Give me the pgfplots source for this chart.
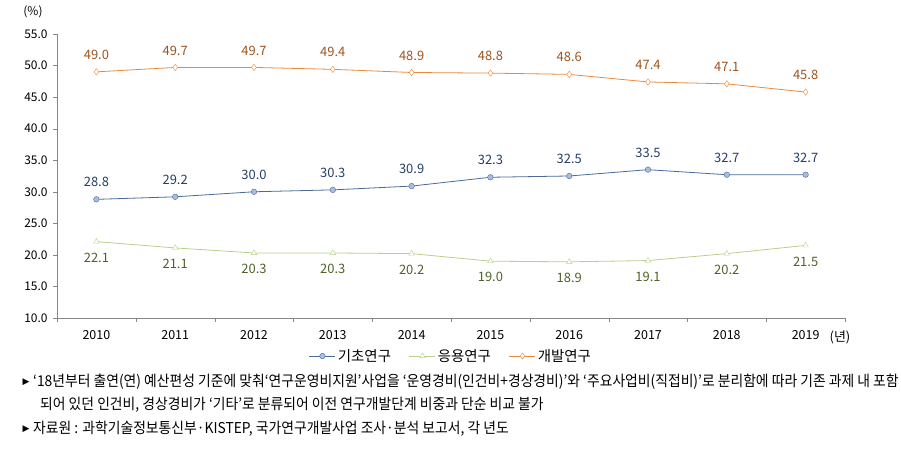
\documentclass[border=0pt]{standalone}
\usepackage{pgfplots}
\pgfplotsset{compat=1.18}
\usepackage{fontspec}
\setmainfont{Noto Sans CJK KR}
\newfontfamily\dejavu{DejaVu Sans}
\definecolor{axgray}{HTML}{868686}
\definecolor{bline}{HTML}{4A6A9A}
\definecolor{bfill}{HTML}{A7BEE0}
\definecolor{blab}{HTML}{243F66}
\definecolor{gline}{HTML}{B9D08A}
\definecolor{glab}{HTML}{4F6228}
\definecolor{oline}{HTML}{E8893C}
\definecolor{olab}{HTML}{9C5420}
\begin{document}
\begin{tikzpicture}[x=1bp,y=1bp]
\useasboundingbox (0,0) rectangle (901,467);
\begin{axis}[
  at={(57bp,149bp)}, anchor=south west,
  width=788bp, height=284bp, scale only axis,
  xmin=-0.5, xmax=9.5, ymin=10, ymax=55,
  axis lines=left, axis line style={axgray, -},
  xtick={0,...,9},
  xticklabels={2010,2011,2012,2013,2014,2015,2016,2017,2018,2019},
  major x tick style={draw=none},
  minor xtick={-0.5,0.5,...,9.5},
  minor tick length=4bp,
  minor x tick style={axgray},
  tick align=outside,
  ytick={10,15,...,55},
  major tick length=4bp,
  y tick style={axgray},
  yticklabel={\pgfmathprintnumber[fixed,fixed zerofill,precision=1]{\tick}},
  /pgf/number format/assume math mode=true,
  y tick label style={font=\fontsize{12}{13}\selectfont, xshift=-2bp},
  x tick label style={font=\fontsize{12.5}{13}\selectfont, yshift=-5bp},
  nodes near coords,
  nodes near coords style={font=\fontsize{13}{14}\selectfont},
  point meta=explicit symbolic,
  legend style={at={(0.5,-0.134)}, anchor=center, draw=none, font=\fontsize{14.5}{15}\selectfont, legend columns=3, /tikz/every even column/.append style={column sep=16bp}},
  legend image code/.code={\draw[mark repeat=2,mark phase=2] plot coordinates {(0bp,0bp) (13bp,0bp) (26bp,0bp)};},
  legend cell align=left,
  clip=false,
]
\addplot[bline, thick, mark=*, mark size=2.8bp, mark options={fill=bfill, draw=bline, thin},
  nodes near coords style={text=blab, anchor=center, yshift=17bp}]
  table[meta=l] {
x y l
0 28.8 28.8
1 29.2 29.2
2 30.0 30.0
3 30.3 30.3
4 30.9 30.9
5 32.3 32.3
6 32.5 32.5
7 33.5 33.5
8 32.7 32.7
9 32.7 32.7
};
\addlegendentry{기초연구}
\addplot[gline, thick, mark=triangle*, mark size=3.2bp, mark options={fill=white, draw=gline, thin},
  nodes near coords style={text=glab, anchor=center, yshift=-16bp}]
  table[meta=l] {
x y l
0 22.1 22.1
1 21.1 21.1
2 20.3 20.3
3 20.3 20.3
4 20.2 20.2
5 19.0 19.0
6 18.9 18.9
7 19.1 19.1
8 20.2 20.2
9 21.5 21.5
};
\addlegendentry{응용연구}
\addplot[oline, thick, mark=diamond*, mark size=3.2bp, mark options={fill=white, draw=oline, thin},
  nodes near coords style={text=olab, anchor=center, yshift=17bp}]
  table[meta=l] {
x y l
0 49.0 49.0
1 49.7 49.7
2 49.7 49.7
3 49.4 49.4
4 48.9 48.9
5 48.8 48.8
6 48.6 48.6
7 47.4 47.4
8 47.1 47.1
9 45.8 45.8
};
\addlegendentry{개발연구}
\end{axis}
\node[font=\fontsize{12}{13}\selectfont] at (33,455) {(\%)};
\node[font=\fontsize{13}{14}\selectfont] at (840,130) {(년)};
\node[anchor=center, font=\dejavu\fontsize{9}{10}\selectfont, inner sep=0] at (26,85) {▶};
\node[anchor=center, font=\dejavu\fontsize{9}{10}\selectfont, inner sep=0] at (26,38) {▶};
\node[anchor=west, font=\fontsize{15}{16}\selectfont, inner sep=0] at (33,85) {\scalebox{0.925}[1]{‘18년부터 출연(연) 예산편성 기준에 맞춰‘연구운영비지원’사업을 ‘운영경비(인건비+경상경비)’와 ‘주요사업비(직접비)’로 분리함에 따라 기존 과제 내 포함}};
\node[anchor=west, font=\fontsize{15}{16}\selectfont, inner sep=0] at (40,62) {\scalebox{0.925}[1]{되어 있던 인건비, 경상경비가 ‘기타’로 분류되어 이전 연구개발단계 비중과 단순 비교 불가}};
\node[anchor=west, font=\fontsize{15}{16}\selectfont, inner sep=0] at (33,38) {\scalebox{0.925}[1]{자료원 : 과학기술정보통신부·KISTEP, 국가연구개발사업 조사·분석 보고서, 각 년도}};
\end{tikzpicture}
\end{document}
